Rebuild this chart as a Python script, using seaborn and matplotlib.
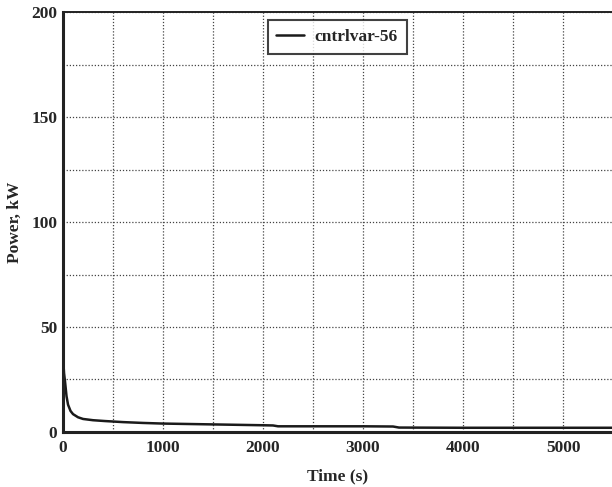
import numpy as np
import pandas as pd
import matplotlib
matplotlib.use("Agg")
import matplotlib.pyplot as plt
from matplotlib.ticker import MultipleLocator
import seaborn as sns

# values
time_s = [0, 2, 5, 10, 20, 35, 50, 75, 100, 150, 200, 300, 420, 600, 800, 1000,
          1500, 2000, 2100, 2150, 2500, 3000, 3300, 3360, 4000, 4500, 5000, 5500]
power_kw = [50, 38, 32, 28, 24, 17, 13, 10, 8.5, 7.0, 6.2, 5.6, 5.2, 4.7, 4.3, 4.0,
            3.6, 3.2, 3.1, 2.7, 2.7, 2.7, 2.6, 2.1, 2.0, 2.0, 2.0, 2.0]
series_name = "cntrlvar-56"

df = pd.DataFrame({"Time (s)": time_s, "Power, kW": power_kw, "series": series_name})

sns.set_style("white")
plt.rcParams["font.family"] = ["Liberation Serif", "DejaVu Serif"]
plt.rcParams["font.weight"] = "bold"
fs = 12.5

fig = plt.figure(figsize=(6.12, 4.87), dpi=100)
ax = fig.add_axes([0.103, 0.113, 0.897, 0.862])

sns.lineplot(data=df, x="Time (s)", y="Power, kW", hue="series",
             palette=["#1a1a1a"], linewidth=1.8, ax=ax, estimator=None, sort=False)

ax.set_xlim(0, 5490)
ax.set_ylim(0, 200)
ax.xaxis.set_major_locator(MultipleLocator(1000))
ax.xaxis.set_minor_locator(MultipleLocator(500))
ax.yaxis.set_major_locator(MultipleLocator(50))
ax.yaxis.set_minor_locator(MultipleLocator(25))
ax.grid(which="both", color="#444444", linestyle=(0, (1, 1.5)), linewidth=0.9)
ax.tick_params(which="both", length=0, labelsize=fs)
ax.tick_params(axis="x", pad=6)
ax.tick_params(axis="y", pad=4)
for lab in ax.get_xticklabels() + ax.get_yticklabels():
    lab.set_fontweight("bold")

ax.spines["right"].set_visible(False)
ax.spines["left"].set_linewidth(2.2)
ax.spines["bottom"].set_linewidth(2.2)
ax.spines["top"].set_linewidth(1.4)
for s in ["left", "bottom", "top"]:
    ax.spines[s].set_color("#222222")

ax.set_xlabel("Time (s)", fontsize=fs, fontweight="bold", labelpad=9)
ax.set_ylabel("Power, kW", fontsize=fs, fontweight="bold", labelpad=6)

leg = ax.legend(loc="upper left", bbox_to_anchor=(0.373, 0.981), frameon=True,
                fancybox=False, edgecolor="#111111", fontsize=fs,
                handlelength=1.6, handletextpad=0.6, borderpad=0.5,
                borderaxespad=0, title=None)
leg.get_frame().set_linewidth(1.5)
for t in leg.get_texts():
    t.set_fontweight("bold")

fig.savefig("out.png", dpi=100)
